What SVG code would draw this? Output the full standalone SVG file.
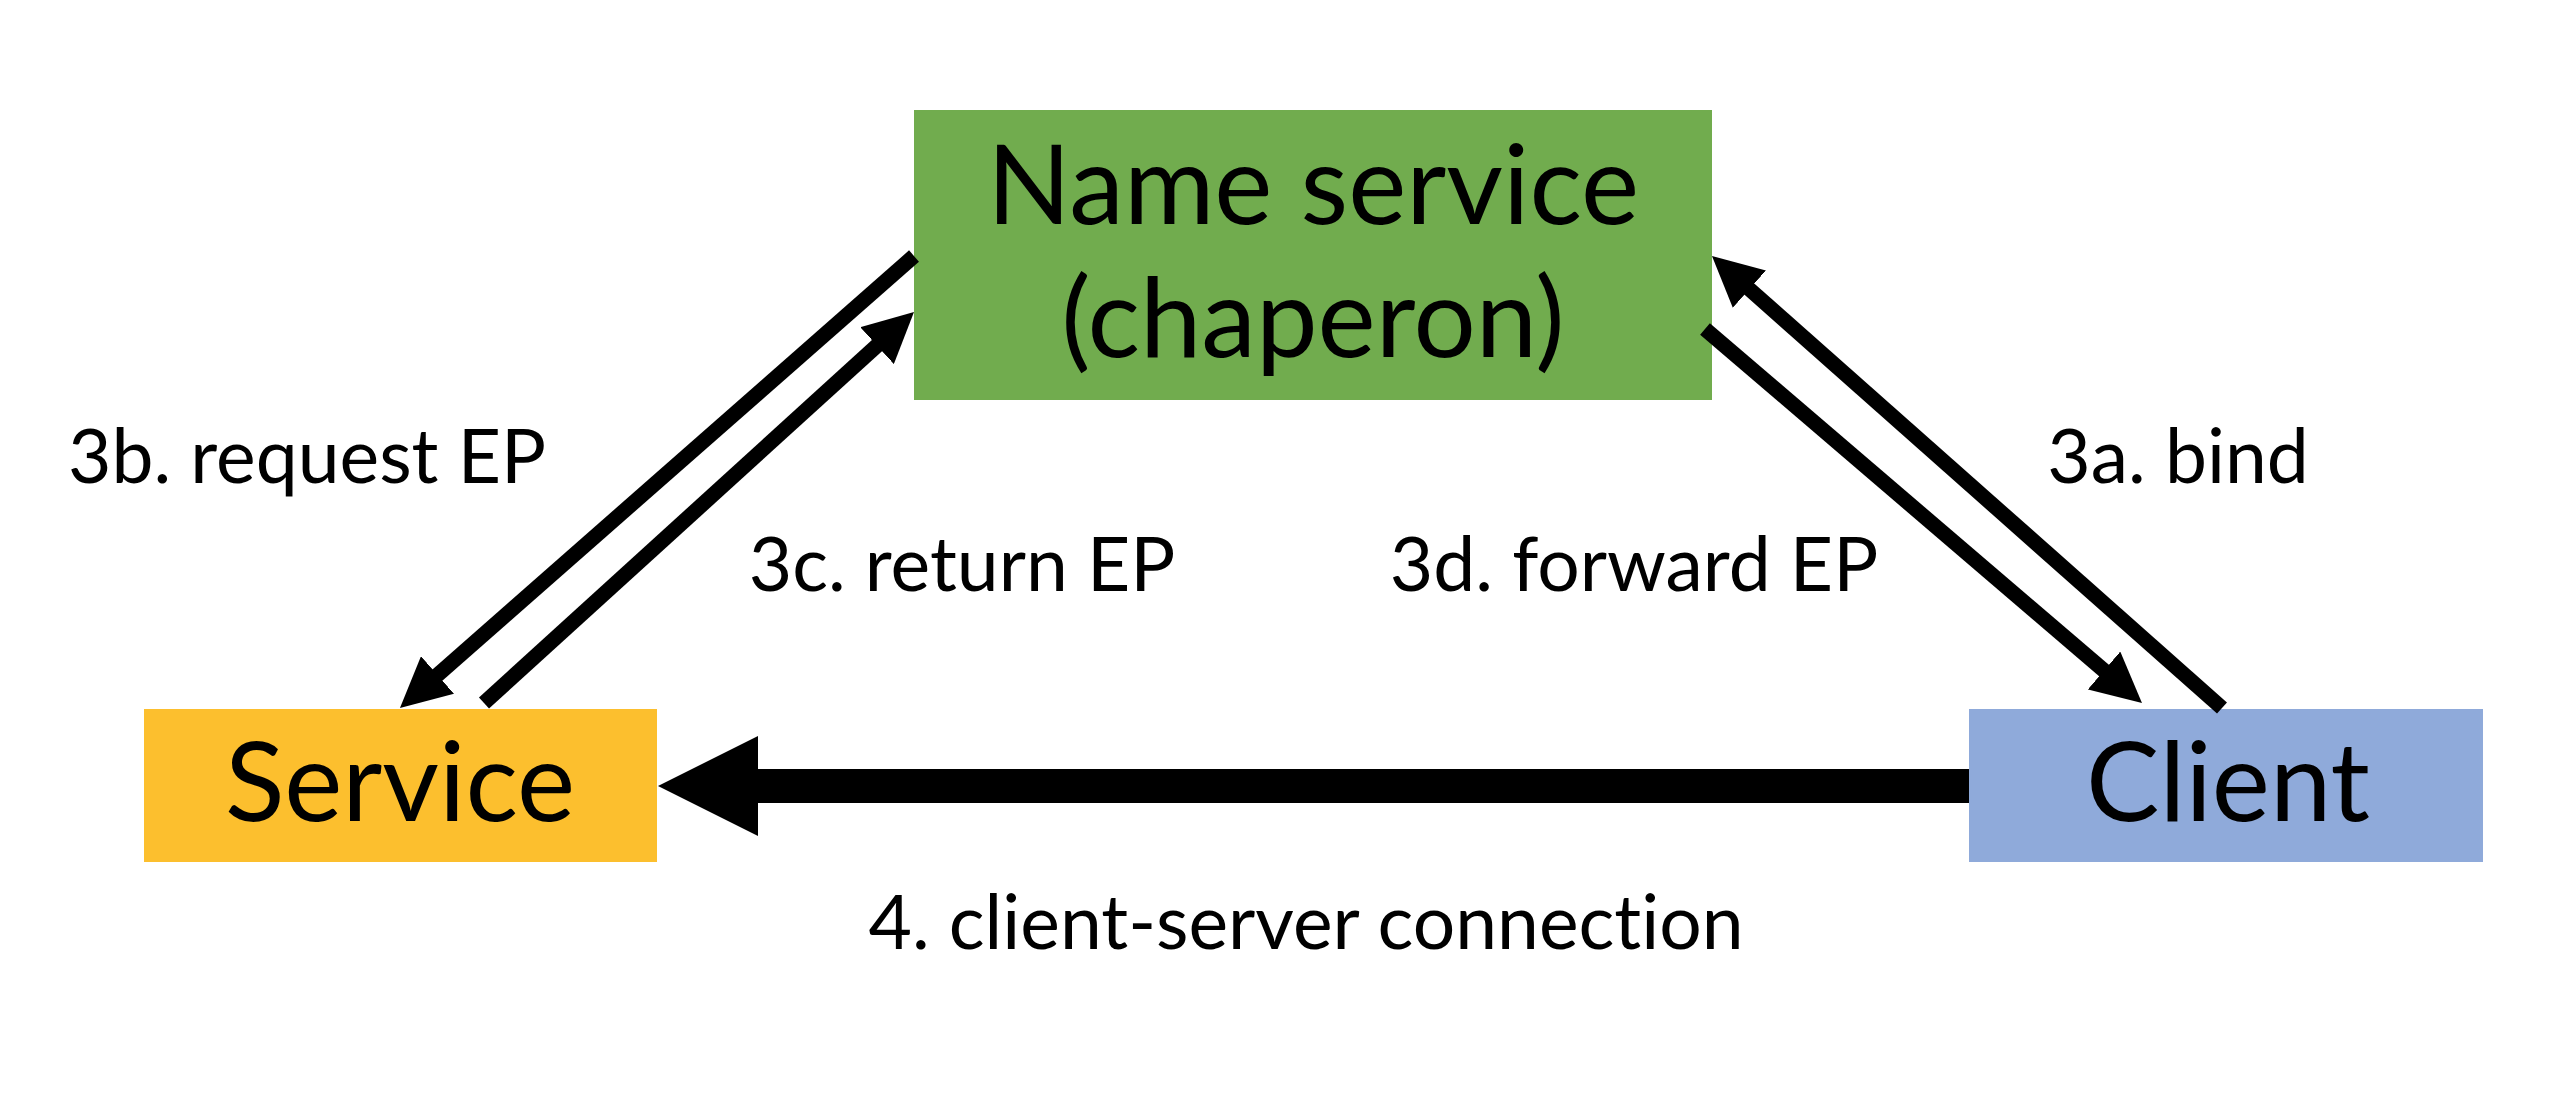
<svg xmlns="http://www.w3.org/2000/svg" width="2572" height="1098" viewBox="0 0 2572 1098">
<style>
.node-text{font-family:Lato,"Liberation Sans",sans-serif;font-size:110px;fill:#000;text-anchor:middle;font-variant-ligatures:none}
.label{font-family:Lato,"Liberation Sans",sans-serif;font-size:75px;fill:#000;text-anchor:middle;font-variant-ligatures:none}
.thin{stroke:#000;stroke-width:15;fill:none}
.thick{stroke:#000;stroke-width:34;fill:none}
</style>
<defs>
<marker id="head" markerUnits="userSpaceOnUse" viewBox="0 0 50 50" markerWidth="50" markerHeight="50" refX="10" refY="25" orient="auto">
<path d="M0,0 L50,25 L0,50 z" fill="#000"/>
</marker>
<marker id="bighead" markerUnits="userSpaceOnUse" viewBox="0 0 100 100" markerWidth="100" markerHeight="100" refX="0" refY="50" orient="auto">
<path d="M0,0 L100,50 L0,100 z" fill="#000"/>
</marker>
</defs>
<rect width="2572" height="1098" fill="#fff"/>
<g id="name-service">
<rect x="914" y="110" width="798" height="290" fill="#71AC4E"/>
<text class="node-text" x="1313" y="224">Name service</text>
<text class="node-text" x="1313" y="357">(chaperon)</text>
</g>
<g id="service">
<rect x="144" y="709" width="513" height="153" fill="#FCBF2E"/>
<text class="node-text" x="400" y="821">Service</text>
</g>
<g id="client">
<rect x="1969" y="709" width="514" height="153" fill="#8FAADA"/>
<text class="node-text" x="2228" y="821">Client</text>
</g>
<g id="connectors">
<line class="thin" x1="914" y1="256" x2="430" y2="681.6" marker-end="url(#head)"/>
<line class="thin" x1="484" y1="703" x2="884.4" y2="338.9" marker-end="url(#head)"/>
<line class="thin" x1="2222" y1="708" x2="1741.9" y2="282.5" marker-end="url(#head)"/>
<line class="thin" x1="1705" y1="329" x2="2111.6" y2="677" marker-end="url(#head)"/>
<line class="thick" x1="1969" y1="786" x2="758" y2="786" marker-end="url(#bighead)"/>
</g>
<g id="labels">
<text class="label" x="307" y="483">3b. request EP</text>
<text class="label" x="962" y="591">3c. return EP</text>
<text class="label" x="2178" y="483">3a. bind</text>
<text class="label" x="1634" y="591">3d. forward EP</text>
<text class="label" x="1306" y="949">4. client-server connection</text>
</g>
</svg>
